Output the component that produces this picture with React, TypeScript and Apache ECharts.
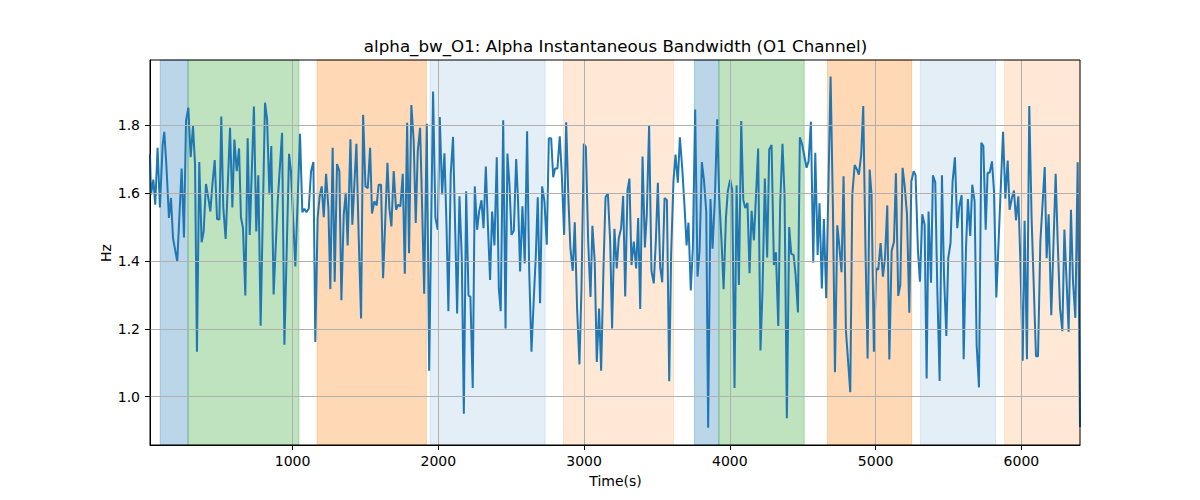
import React, { useEffect, useRef } from "react";
import * as echarts from "echarts";

const TITLE = "alpha_bw_O1: Alpha Instantaneous Bandwidth (O1 Channel)";
const X_LABEL = "Time(s)";
const Y_LABEL = "Hz";
const X_TICKS = [1000, 2000, 3000, 4000, 5000, 6000];
const Y_TICKS = [1.0, 1.2, 1.4, 1.6, 1.8];
const X_MIN = 22;
const X_MAX = 6402;
const Y_MIN = 0.857;
const Y_MAX = 1.993;

const TIMES = [
  22, 29, 45, 58, 74, 90, 109, 120, 134, 152, 166, 180, 209, 239, 255, 269, 285, 301, 317, 331,
  344, 360, 376, 390, 406, 422, 436, 450, 466, 482, 498, 511, 525, 541, 571, 587, 601, 617, 633, 646,
  660, 676, 692, 706, 735, 751, 765, 781, 811, 825,
  841, 854, 870, 898, 928, 944, 976, 989, 1019, 1051, 1067, 1081, 1095, 1111, 1127, 1143, 1156, 1172, 1186, 1200,
  1214, 1230, 1246, 1259, 1275, 1289, 1305, 1321, 1335, 1351, 1365, 1378, 1397, 1410, 1438, 1454, 1470, 1484, 1500, 1516,
  1532, 1545, 1561, 1577, 1591, 1607, 1621, 1651,
  1664, 1678, 1694, 1710, 1724, 1740, 1756, 1770, 1786, 1799, 1815, 1831, 1845, 1859, 1875, 1889, 1903, 1921, 1937, 1964,
  1980, 1996, 2010, 2026, 2042, 2056, 2069, 2085, 2101, 2115, 2129, 2145, 2161, 2175, 2191, 2207, 2220, 2236, 2250, 2266,
  2280, 2296, 2310, 2326, 2339, 2355, 2369, 2385, 2401, 2415, 2428, 2445, 2461,
  2474, 2488, 2502, 2518, 2534, 2547, 2561, 2577, 2593, 2609, 2623, 2639, 2653, 2669, 2682, 2698, 2712, 2728, 2744, 2758,
  2774, 2788, 2801, 2817, 2833, 2847, 2863, 2877, 2893, 2906, 2922, 2936, 2952, 2968, 2982, 2998, 3012, 3028, 3044, 3057,
  3073, 3087, 3103, 3117, 3133, 3147, 3163, 3179, 3192, 3208, 3224, 3238, 3254, 3268, 3282, 3298,
  3311, 3325, 3341, 3357, 3371, 3385, 3401, 3417, 3430, 3446, 3462, 3478, 3492, 3506, 3522, 3536, 3552, 3568, 3584, 3597,
  3613, 3627, 3643, 3657, 3673, 3689, 3703, 3716, 3732, 3746, 3762, 3778, 3792, 3808, 3822, 3838, 3851, 3867, 3881, 3897,
  3913, 3927, 3943, 3957, 3973, 3986, 4002, 4016, 4032, 4046, 4062, 4078, 4092, 4105, 4121,
  4135, 4149, 4165, 4194, 4210, 4224, 4240, 4256, 4270, 4286, 4302, 4316, 4332, 4345, 4361, 4375, 4391, 4407, 4421, 4437,
  4451, 4467, 4480, 4496, 4526, 4540, 4556, 4572, 4586, 4602, 4615, 4631, 4645, 4661, 4691, 4707, 4721, 4737, 4750, 4766,
  4780, 4796, 4826, 4840, 4856, 4872, 4885, 4901, 4915, 4931, 4945,
  4959, 4972, 4988, 5004, 5018, 5034, 5050, 5064, 5080, 5094, 5110, 5126, 5139, 5155, 5169, 5185, 5199, 5215, 5231, 5245,
  5261, 5274, 5290, 5304, 5320, 5336, 5350, 5363, 5380, 5393, 5409, 5423, 5439, 5455, 5469, 5485, 5498, 5514, 5528, 5544,
  5560, 5574, 5590, 5604, 5620, 5633, 5649, 5663, 5679, 5693, 5709, 5725, 5739, 5755, 5768,
  5782, 5798, 5812, 5828, 5874, 5890, 5906, 5919, 5935, 5949, 5963, 5979, 5993, 6009, 6022, 6038, 6054, 6070, 6100, 6114,
  6130, 6160, 6173, 6187, 6205, 6235, 6249, 6265, 6281, 6295, 6311, 6324, 6340, 6354, 6370, 6386, 6402,
];

const VALUES = [
  1.714, 1.596, 1.64, 1.566, 1.734, 1.558, 1.744, 1.781, 1.685, 1.527, 1.586, 1.467, 1.398, 1.673, 1.469, 1.813, 1.852, 1.706, 1.798, 1.685,
  1.132, 1.692, 1.455, 1.487, 1.627, 1.586, 1.546, 1.625, 1.698, 1.524, 1.522, 1.826, 1.556, 1.465, 1.793, 1.558, 1.758, 1.665, 1.732, 1.529,
  1.497, 1.298, 1.762, 1.477, 1.856, 1.487, 1.653, 1.209, 1.867, 1.82,
  1.596, 1.739, 1.301, 1.576, 1.778, 1.153, 1.716, 1.665, 1.384, 1.775, 1.544, 1.554, 1.544, 1.554, 1.665, 1.692, 1.161, 1.527, 1.591, 1.62,
  1.529, 1.657, 1.554, 1.317, 1.734, 1.339, 1.686, 1.665, 1.284, 1.536, 1.601, 1.446, 1.759, 1.507, 1.746, 1.467, 1.23, 1.831, 1.62, 1.615,
  1.734, 1.54, 1.576, 1.564, 1.625, 1.625, 1.349, 1.69,
  1.556, 1.502, 1.665, 1.551, 1.566, 1.561, 1.657, 1.362, 1.808, 1.423, 1.86, 1.754, 1.512, 1.724, 1.793, 1.556, 1.303, 1.805, 1.076, 1.9,
  1.527, 1.492, 1.825, 1.596, 1.718, 1.507, 1.252, 1.655, 1.766, 1.507, 1.245, 1.591, 1.408, 0.949, 1.606, 1.298, 1.295, 1.025, 1.62, 1.492,
  1.546, 1.579, 1.497, 1.679, 1.517, 1.344, 1.546, 1.446, 1.706, 1.319, 1.252, 1.815, 1.201,
  1.717, 1.625, 1.477, 1.489, 1.701, 1.576, 1.369, 1.561, 1.393, 1.783, 1.378, 1.132, 1.27, 1.418, 1.588, 1.275, 1.62, 1.576, 1.448, 1.762,
  1.762, 1.647, 1.673, 1.673, 1.768, 1.655, 1.477, 1.809, 1.576, 1.438, 1.371, 1.514, 1.26, 1.095, 1.319, 1.746, 1.736, 1.457, 1.294, 1.504,
  1.398, 1.102, 1.26, 1.076, 1.378, 1.588, 1.6, 1.457, 1.201, 1.495, 1.378, 1.467, 1.497, 1.592, 1.295, 1.61,
  1.643, 1.388, 1.457, 1.378, 1.527, 1.258, 1.708, 1.44, 1.536, 1.801, 1.371, 1.334, 1.457, 1.631, 1.382, 1.337, 1.586, 1.58, 1.045, 1.418,
  1.635, 1.714, 1.631, 1.765, 1.675, 1.561, 1.446, 1.513, 1.313, 1.438, 1.847, 1.354, 1.428, 1.692, 1.64, 1.546, 0.908, 1.583, 1.436, 1.581,
  1.818, 1.586, 1.457, 1.317, 1.527, 1.606, 1.64, 1.61, 1.025, 1.623, 1.329, 1.813, 1.581, 1.556, 1.571,
  1.364, 1.548, 1.461, 1.732, 1.136, 1.314, 1.643, 1.41, 1.729, 1.742, 1.388, 1.426, 1.208, 1.566, 1.746, 1.596, 0.936, 1.5, 1.421, 1.418,
  1.359, 1.248, 1.765, 1.744, 1.675, 1.694, 1.811, 1.395, 1.719, 1.418, 1.57, 1.319, 1.524, 1.29, 1.944, 1.556, 1.072, 1.505, 1.448, 1.367,
  1.65, 1.196, 1.013, 1.596, 1.683, 1.67, 1.655, 1.714, 1.857, 1.418, 1.112,
  1.67, 1.596, 1.132, 1.378, 1.374, 1.453, 1.354, 1.408, 1.564, 1.109, 1.43, 1.457, 1.659, 1.297, 1.329, 1.675, 1.622, 1.538, 1.247, 1.635,
  1.665, 1.653, 1.433, 1.339, 1.538, 1.507, 1.053, 1.546, 1.336, 1.653, 1.632, 1.319, 1.046, 1.653, 1.359, 1.179, 1.408, 1.453, 1.635, 1.706,
  1.497, 1.56, 1.594, 1.11, 1.438, 1.583, 1.474, 1.625, 1.576, 1.151, 1.027, 1.749, 1.739, 1.492, 1.66,
  1.66, 1.694, 1.606, 1.292, 1.781, 1.584, 1.696, 1.551, 1.586, 1.608, 1.52, 1.591, 1.398, 1.106, 1.519, 1.11, 1.857, 1.527, 1.119, 1.119,
  1.457, 1.677, 1.408, 1.538, 1.24, 1.657, 1.457, 1.26, 1.193, 1.493, 1.329, 1.191, 1.551, 1.339, 1.232, 1.691, 0.91,
];

const BLUE = "rgba(31,119,180,0.3)";
const GREEN = "rgba(44,160,44,0.3)";
const ORANGE = "rgba(255,127,14,0.3)";
const LIGHT_BLUE = "rgba(31,119,180,0.12)";
const LIGHT_ORANGE = "rgba(255,127,14,0.17)";

const SPAN_START = [92, 283, 1168, 1943, 2858, 3757, 3925, 4670, 5308, 5885];
const SPAN_END = [283, 1044, 1918, 2733, 3613, 3925, 4510, 5247, 5823, 6402];
const SPAN_COLOR = [BLUE, GREEN, ORANGE, LIGHT_BLUE, LIGHT_ORANGE, BLUE, GREEN, ORANGE, LIGHT_BLUE, LIGHT_ORANGE];

const FONT = "DejaVu Sans";

export default function App() {
  const ref = useRef<HTMLDivElement>(null);

  useEffect(() => {
    if (!ref.current) return;
    const chart = echarts.init(ref.current, undefined, { renderer: "svg" });
    const lineData = TIMES.map((t, i) => [t, VALUES[i]]);
    const spans = SPAN_START.map((s, i) => [
      {
        xAxis: s,
        itemStyle: { color: SPAN_COLOR[i], borderColor: SPAN_COLOR[i], borderWidth: 1 },
      },
      { xAxis: SPAN_END[i] },
    ]);
    const gridLines = [
      ...X_TICKS.map((x) => ({ xAxis: x })),
      ...Y_TICKS.map((y) => ({ yAxis: y })),
    ];

    chart.setOption({
      animation: false,
      backgroundColor: "#ffffff",
      textStyle: { fontFamily: FONT },
      grid: {
        left: 150,
        right: 120,
        top: 60,
        bottom: 55,
        show: true,
        borderColor: "#000000",
        borderWidth: 1,
        backgroundColor: "transparent",
        z: 10,
      },
      xAxis: {
        type: "value",
        min: X_MIN,
        max: X_MAX,
        axisLine: { show: true, lineStyle: { color: "#000", width: 1 } },
        axisTick: {
          show: true,
          inside: false,
          length: 5,
          lineStyle: { color: "#000", width: 1 },
          customValues: X_TICKS,
        },
        axisLabel: {
          customValues: X_TICKS,
          color: "#000",
          fontSize: 14,
          fontFamily: FONT,
          margin: 9,
          formatter: (v: number) => String(v),
        },
        splitLine: { show: false },
      },
      yAxis: {
        type: "value",
        min: Y_MIN,
        max: Y_MAX,
        axisLine: { show: true, lineStyle: { color: "#000", width: 1 } },
        axisTick: {
          show: true,
          inside: false,
          length: 5,
          lineStyle: { color: "#000", width: 1 },
          customValues: Y_TICKS,
        },
        axisLabel: {
          customValues: Y_TICKS,
          color: "#000",
          fontSize: 14,
          fontFamily: FONT,
          margin: 10,
          formatter: (v: number) => v.toFixed(1),
        },
        splitLine: { show: false },
      },
      graphic: [
        {
          type: "text",
          x: 615.5,
          y: 46,
          style: {
            text: TITLE,
            fontSize: 16.7,
            fontFamily: FONT,
            fill: "#000",
            textAlign: "center",
            textVerticalAlign: "middle",
          },
        },
        {
          type: "text",
          x: 615.5,
          y: 481,
          style: {
            text: X_LABEL,
            fontSize: 14,
            fontFamily: FONT,
            fill: "#000",
            textAlign: "center",
            textVerticalAlign: "middle",
          },
        },
        {
          type: "text",
          x: 106,
          y: 253,
          rotation: Math.PI / 2,
          style: {
            text: Y_LABEL,
            fontSize: 14,
            fontFamily: FONT,
            fill: "#000",
            textAlign: "center",
            textVerticalAlign: "middle",
          },
        },
      ],
      series: [
        {
          type: "line",
          data: [],
          z: 1,
          silent: true,
          markArea: { silent: true, data: spans },
        },
        {
          type: "line",
          data: [],
          z: 2,
          silent: true,
          markLine: {
            silent: true,
            symbol: ["none", "none"],
            label: { show: false },
            lineStyle: { color: "#b0b0b0", width: 1, type: "solid" },
            data: gridLines,
          },
        },
        {
          type: "line",
          data: lineData,
          z: 3,
          showSymbol: false,
          symbol: "none",
          lineStyle: { color: "#1f77b4", width: 2 },
        },
      ],
    });
    return () => chart.dispose();
  }, []);

  return (
    <div
      ref={ref}
      style={{ position: "fixed", left: 0, top: 0, width: 1200, height: 500 }}
    />
  );
}
